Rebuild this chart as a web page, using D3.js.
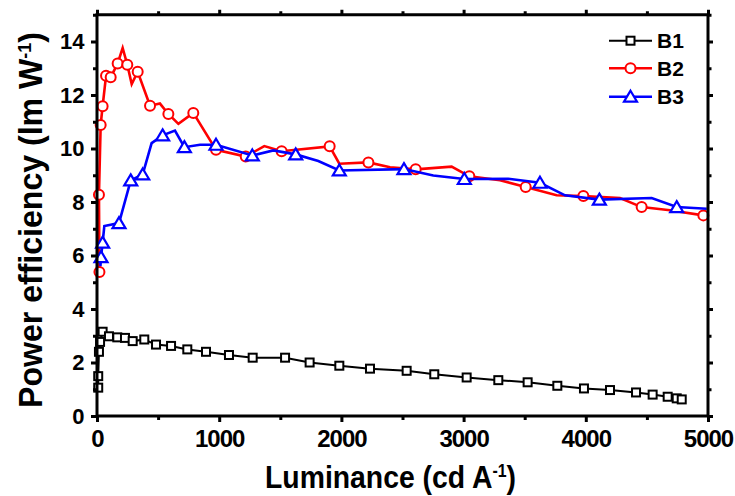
<!DOCTYPE html>
<html><head><meta charset="utf-8">
<script src="https://cdn.jsdelivr.net/npm/d3@7"></script>
<style>body{margin:0;background:#fff} text{font-family:"Liberation Sans",Arial,sans-serif;font-weight:bold}</style>
</head><body><svg id="c" width="735" height="496"></svg>
<script>
// ---- data ----
const seriesNames = ["B1","B2","B3"];
const seriesColors = ["#000000","#ff0000","#0000ff"];
const xTicks = [0,1000,2000,3000,4000,5000];
const xMinor = [500,1500,2500,3500,4500];
const yTicks = [0,2,4,6,8,10,12,14];
const yMinor = [1,3,5,7,9,11,13,15];

const b1X = [10,10,16,25,46,98,166,229,292,387,483,606,739,892,1080,1274,1539,1740,1983,2234,2534,2760,3025,3284,3524,3767,3985,4198,4411,4547,4670,4744,4785];
const b1Y = [1.06,1.49,2.4,2.77,3.15,2.98,2.94,2.92,2.80,2.86,2.67,2.62,2.49,2.40,2.28,2.18,2.18,2.0,1.88,1.77,1.69,1.56,1.44,1.34,1.26,1.13,1.03,0.97,0.88,0.80,0.72,0.66,0.62];
const b1M = b1X.map(()=>1);

const b2X = [20,16,30,46,74,112,169,210,248,284,333,434,515,584,666,788,974,1217,1369,1511,1904,1983,2221,2398,2608,2902,3047,3298,3508,3761,3980,4280,4457,4689,4962];
const b2Y = [5.38,8.27,10.88,11.58,12.72,12.66,13.18,13.76,13.13,12.41,12.87,11.6,11.68,11.29,10.92,11.33,9.95,9.70,10.09,9.90,10.08,9.43,9.48,9.30,9.22,9.32,8.96,8.81,8.56,8.25,8.22,8.15,7.81,7.69,7.5];
const b2M = [1,1,1,1,1,1,1,0,1,0,1,1,0,1,0,1,1,1,0,1,1,0,1,0,1,0,1,0,1,0,1,0,1,0,1];

const b3X = [28,33,46,60,180,276,374,447,537,638,715,843,974,1271,1443,1626,1811,1983,2512,2752,3006,3366,3625,3830,4111,4539,4744,4990];
const b3Y = [5.6,5.94,6.48,7.1,7.21,8.81,9.03,10.2,10.49,10.67,10.05,10.14,10.14,9.74,9.93,9.78,9.53,9.18,9.23,8.99,8.86,8.87,8.72,8.25,8.09,8.15,7.81,7.75];
const b3M = [0,1,1,0,1,1,1,0,1,0,1,0,1,1,0,1,0,1,1,0,1,0,1,0,1,0,1,0];

// ---- chart ----
const svg = d3.select("#c");
const x = d3.scaleLinear().domain([0,5000]).range([97,708]);
const y = d3.scaleLinear().domain([0,15]).range([416,14.75]);

const series = [
  {name:"B1", color:seriesColors[0], shape:"square", xs:b1X, ys:b1Y, ms:b1M},
  {name:"B2", color:seriesColors[1], shape:"circle", xs:b2X, ys:b2Y, ms:b2M},
  {name:"B3", color:seriesColors[2], shape:"triangle", xs:b3X, ys:b3Y, ms:b3M}
];

function drawMarker(g, shape, color, cx, cy){
  if(shape==="square"){
    g.append("rect").attr("x",cx-4).attr("y",cy-4).attr("width",8).attr("height",8)
      .attr("fill","#fff").attr("stroke",color).attr("stroke-width",2);
  } else if(shape==="circle"){
    g.append("circle").attr("cx",cx).attr("cy",cy).attr("r",5)
      .attr("fill","#fff").attr("stroke",color).attr("stroke-width",2);
  } else {
    g.append("path").attr("d",`M${cx},${cy-6}L${cx+6.5},${cy+5}L${cx-6.5},${cy+5}Z`)
      .attr("fill","#fff").attr("stroke",color).attr("stroke-width",2.2);
  }
}

const line = d3.line().x(d=>x(d[0])).y(d=>y(d[1]));
series.forEach(s=>{
  const pts = s.xs.map((v,i)=>[v,s.ys[i],s.ms[i]]);
  svg.append("path").datum(pts).attr("d",line).attr("fill","none")
    .attr("stroke",s.color).attr("stroke-width",s.name==="B1"?2:2.6);
  const g = svg.append("g");
  pts.filter(p=>p[2]).forEach(p=>drawMarker(g,s.shape,s.color,x(p[0]),y(p[1])));
});

// frame
svg.append("rect").attr("x",x(0)).attr("y",y(15)).attr("width",x(5000)-x(0)).attr("height",y(0)-y(15))
  .attr("fill","none").attr("stroke","#000").attr("stroke-width",3);

function styleAxis(g){
  g.select(".domain").remove();
  g.selectAll(".tick line").attr("stroke","#000").attr("stroke-width",3);
}
// major
svg.append("g").attr("transform",`translate(0,${y(0)})`)
  .call(d3.axisBottom(x).tickValues(xTicks).tickSize(6).tickPadding(8).tickFormat(d3.format("d")))
  .call(styleAxis)
  .call(g=>g.selectAll("text").attr("font-size",24).attr("letter-spacing","-1px").attr("fill","#000")
     .attr("font-family","'Liberation Sans',Arial,sans-serif").attr("font-weight","bold"));
svg.append("g").attr("transform",`translate(${x(0)},0)`)
  .call(d3.axisLeft(y).tickValues(yTicks).tickSize(6).tickPadding(6.5).tickFormat(d3.format("d")))
  .call(styleAxis)
  .call(g=>g.selectAll("text").attr("font-size",22).attr("fill","#000")
     .attr("font-family","'Liberation Sans',Arial,sans-serif").attr("font-weight","bold"));
svg.append("g").attr("transform",`translate(0,${y(15)})`)
  .call(d3.axisTop(x).tickValues(xTicks).tickSize(5).tickFormat("")).call(styleAxis);
svg.append("g").attr("transform",`translate(${x(5000)},0)`)
  .call(d3.axisRight(y).tickValues(yTicks).tickSize(5).tickFormat("")).call(styleAxis);
// minor
svg.append("g").attr("transform",`translate(0,${y(0)})`)
  .call(d3.axisBottom(x).tickValues(xMinor).tickSize(4).tickFormat("")).call(styleAxis);
svg.append("g").attr("transform",`translate(${x(0)},0)`)
  .call(d3.axisLeft(y).tickValues(yMinor).tickSize(4).tickFormat("")).call(styleAxis);
svg.append("g").attr("transform",`translate(0,${y(15)})`)
  .call(d3.axisTop(x).tickValues(xMinor).tickSize(3.5).tickFormat("")).call(styleAxis);
svg.append("g").attr("transform",`translate(${x(5000)},0)`)
  .call(d3.axisRight(y).tickValues(yMinor).tickSize(3.5).tickFormat("")).call(styleAxis);

// titles
function title(parts, fs, targetLen, tf){
  const t = svg.append("text").attr("font-size",fs).attr("text-anchor","middle").attr("fill","#000");
  parts.forEach(p=>{
    const ts = t.append("tspan").text(p.t);
    if(p.sup){ ts.attr("font-size",fs*0.56).attr("dy",-fs*0.33); }
    if(p.after){ ts.attr("dy",fs*0.33); }
  });
  const w = t.node().getComputedTextLength();
  t.attr("transform", tf + ` scale(${targetLen/w},1)`);
}
title([{t:"Luminance (cd A"},{t:"-1",sup:true},{t:")",after:true}], 32, 251, "translate(390.5,488)");
title([{t:"Power efficiency (lm W"},{t:"-1",sup:true},{t:")",after:true}], 33, 376, "translate(42,220) rotate(-90)");

// legend
const lg = svg.append("g");
series.forEach((s,i)=>{
  const cy = [40.7,68.3,96.7][i];
  lg.append("line").attr("x1",609).attr("x2",652).attr("y1",cy).attr("y2",cy)
    .attr("stroke",s.color).attr("stroke-width",s.name==="B1"?2:2.6);
  drawMarker(lg,s.shape,s.color,630.5,cy);
  lg.append("text").attr("x",657).attr("y",cy+7.6).attr("font-size",21).attr("fill","#000").text(s.name);
});
</script></body></html>
